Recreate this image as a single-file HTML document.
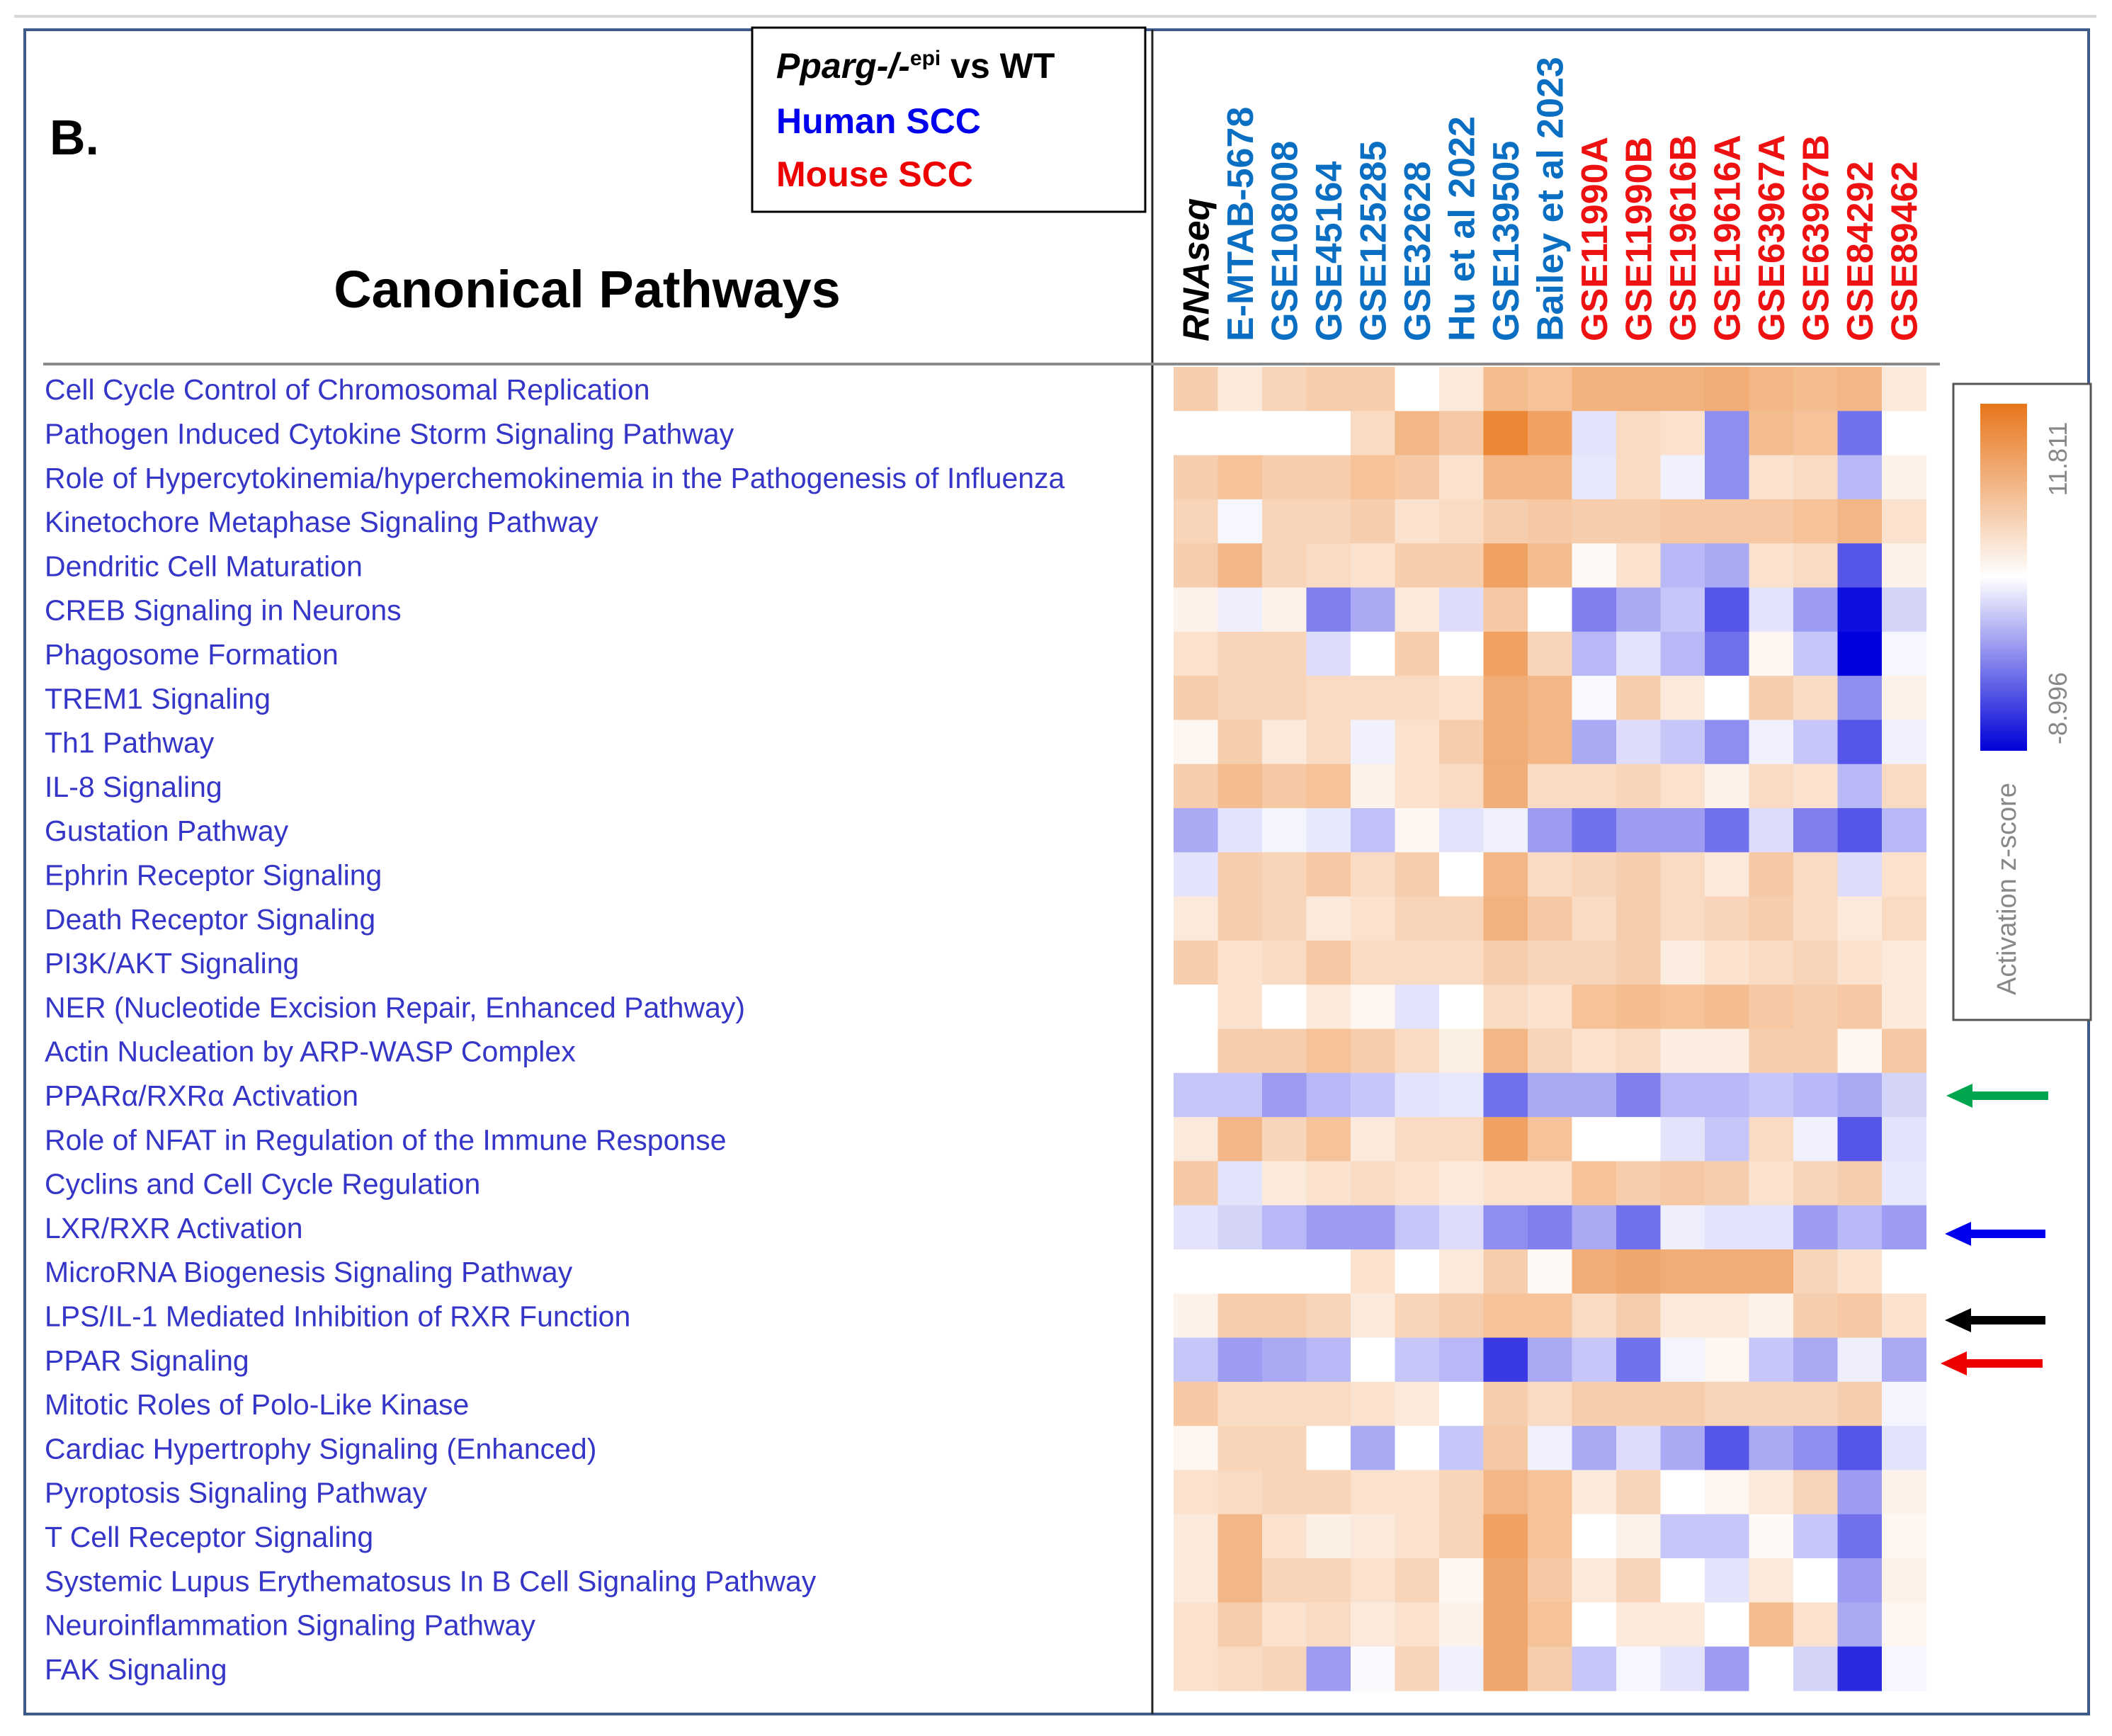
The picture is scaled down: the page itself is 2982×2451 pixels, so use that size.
<!DOCTYPE html>
<html><head><meta charset="utf-8"><style>
html,body{margin:0;padding:0;background:#fff;}
svg{display:block;}
</style></head><body>
<svg id="fig" width="2982" height="2451" viewBox="0 0 2982 2451" xmlns="http://www.w3.org/2000/svg">
<defs>
<linearGradient id="cbar" x1="0" y1="0" x2="0" y2="1">
<stop offset="0" stop-color="#e8761a"/><stop offset="0.5" stop-color="#fff"/><stop offset="1" stop-color="#0000d8"/>
</linearGradient>
</defs>
<rect x="0" y="0" width="2982" height="2451" fill="#fff"/>
<line x1="20" y1="23" x2="2960" y2="23" stroke="#d8d8d8" stroke-width="4"/>
<rect x="35" y="42" width="2914" height="2378" fill="none" stroke="#3d5a88" stroke-width="4"/>
<line x1="1627" y1="42" x2="1627" y2="2420" stroke="#222" stroke-width="3"/>
<text x="70" y="218" font-family="Liberation Sans, sans-serif" font-weight="bold" font-size="70" fill="#000">B.</text>
<g>
<rect x="1062" y="39" width="555" height="260" fill="#fff" stroke="#000" stroke-width="3"/>
<text x="1096" y="110" font-family="Liberation Sans, sans-serif" font-weight="bold" font-size="50" fill="#000"><tspan font-style="italic">Pparg-/-</tspan><tspan font-size="30" dy="-18">epi</tspan><tspan dy="18"> vs WT</tspan></text>
<text x="1096" y="188" font-family="Liberation Sans, sans-serif" font-weight="bold" font-size="50" fill="#0000ee">Human  SCC</text>
<text x="1096" y="263" font-family="Liberation Sans, sans-serif" font-weight="bold" font-size="50" fill="#ee0000">Mouse SCC</text>
</g>
<text x="829" y="434" text-anchor="middle" font-family="Liberation Sans, sans-serif" font-weight="bold" font-size="74" fill="#000">Canonical Pathways</text>
<line x1="61" y1="514" x2="2739" y2="514" stroke="#8a8a8a" stroke-width="4"/>
<g id="rowlabels"></g>
<g id="collabels"></g>
<g id="cells"></g>
<g>
<rect x="2758" y="542" width="194" height="898" fill="#fff" stroke="#555" stroke-width="3"/>
<rect x="2796" y="570" width="66" height="490" fill="url(#cbar)"/>
<text transform="translate(2918,648) rotate(-90)" text-anchor="middle" font-family="Liberation Sans, sans-serif" font-size="36" fill="#888">11.811</text>
<text transform="translate(2918,1000) rotate(-90)" text-anchor="middle" font-family="Liberation Sans, sans-serif" font-size="36" fill="#888">-8.996</text>
<text transform="translate(2846,1255) rotate(-90)" text-anchor="middle" font-family="Liberation Sans, sans-serif" font-size="38" fill="#888">Activation z-score</text>
</g>
<g>
<path d="M2748,1547 L2785,1530 L2785,1541 L2892,1541 L2892,1553 L2785,1553 L2785,1564 Z" fill="#00a550"/>
<path d="M2746,1742 L2783,1725 L2783,1736 L2888,1736 L2888,1748 L2783,1748 L2783,1759 Z" fill="#0000ee"/>
<path d="M2746,1864 L2783,1847 L2783,1858 L2888,1858 L2888,1870 L2783,1870 L2783,1881 Z" fill="#000"/>
<path d="M2740,1925 L2777,1908 L2777,1919 L2884,1919 L2884,1931 L2777,1931 L2777,1942 Z" fill="#ee0000"/>
</g>
</svg>
<script>
const pathways = ["Cell Cycle Control of Chromosomal Replication","Pathogen Induced Cytokine Storm Signaling Pathway","Role of Hypercytokinemia/hyperchemokinemia in the Pathogenesis of Influenza","Kinetochore Metaphase Signaling Pathway","Dendritic Cell Maturation","CREB Signaling in Neurons","Phagosome Formation","TREM1 Signaling","Th1 Pathway","IL-8 Signaling","Gustation Pathway","Ephrin Receptor Signaling","Death Receptor Signaling","PI3K/AKT Signaling","NER (Nucleotide Excision Repair, Enhanced Pathway)","Actin Nucleation by ARP-WASP Complex","PPARα/RXRα Activation","Role of NFAT in Regulation of the Immune Response","Cyclins and Cell Cycle Regulation","LXR/RXR Activation","MicroRNA Biogenesis Signaling Pathway","LPS/IL-1 Mediated Inhibition of RXR Function","PPAR Signaling","Mitotic Roles of Polo-Like Kinase","Cardiac Hypertrophy Signaling (Enhanced)","Pyroptosis Signaling Pathway","T Cell Receptor Signaling","Systemic Lupus Erythematosus In B Cell Signaling Pathway","Neuroinflammation Signaling Pathway","FAK Signaling"];
const datasets = ["RNAseq","E-MTAB-5678","GSE108008","GSE45164","GSE125285","GSE32628","Hu et al 2022","GSE139505","Bailey et al 2023","GSE11990A","GSE11990B","GSE19616B","GSE19616A","GSE63967A","GSE63967B","GSE84292","GSE89462"];
const datasetGroup = ["own","human","human","human","human","human","human","human","human","mouse","mouse","mouse","mouse","mouse","mouse","mouse","mouse"];
const zMax = 11.811;
const zMin = -8.996;
const zscores = [
[3,1,2.5,3,3,0,1,4.5,4,5.5,5.5,5.5,6,5,4.5,5,1],
[0,0,0,0,2,5,3.5,10,7,-1,2,1.5,-4,4.5,4,-5,0],
[3,4,3,3,4,3.5,1.5,5,5,-0.8,2,-0.5,-4,1.5,2,-2.5,0.5],
[2.5,-0.3,2.5,2.5,3,1.5,2,3,3.5,3,3,3.5,3.5,3.5,4,5,1.5],
[3,5,2.5,2,1.5,3,3,7,4.5,0.2,1.5,-2.5,-3,1.5,2,-6,0.5],
[0.5,-0.6,0.5,-4.5,-3,1,-1.2,3.5,0,-4.5,-3,-2,-6,-1,-3.5,-8.5,-1.5],
[1.5,2.5,2.5,-1.2,0,3,0,7,2.5,-2.5,-1,-2.5,-5,0.3,-2,-9,-0.3],
[3,2.5,2.5,2,2,2,1.5,6,5,-0.2,3,1,0,3,2,-4,0.5],
[0.3,3,1,2,-0.5,1.5,3,6,5,-3,-1.2,-2,-4,-0.5,-2,-6,-0.5],
[3,4.5,3.5,4,0.5,1.5,2,6,2,2,2.5,1.5,0.5,2,1.5,-2.5,2],
[-3,-1,-0.4,-0.8,-2.2,0.3,-1,-0.5,-3.5,-5,-3.5,-3.5,-5,-1.2,-4.5,-6,-2.5],
[-1,3,2.5,3.5,2,3,0,5,2,2.5,3,2,1,3.5,2,-1.2,1.5],
[1,3,2.5,1,1.5,2.5,2.5,5.5,3.5,2,3,2,2.5,3,2,1,2],
[3,1.5,2,3.5,2,2,2,3,2.5,2.5,3,0.8,1.5,2,2.5,1.5,1],
[0,1.5,0,1,0.3,-1,0,2,1.5,4,4.5,4,4.5,3.5,3,3.5,1],
[0,3,3,4,3,2,0.7,5,2.5,1.5,2,0.8,0.8,3,3,0.3,3.5],
[-2,-2,-3.5,-2.5,-2,-1,-0.8,-5,-3,-3,-4.5,-2.5,-2.5,-2,-2.5,-3,-1.5],
[1,5,2.5,4,1,2,2,7,4,0,0,-1,-2,2,-0.5,-6,-1],
[3.5,-1,1,1.5,2,1.5,1,1.5,1.5,4,3,3.5,3,1.5,2.5,3,-0.8],
[-1,-1.5,-2.5,-3.5,-3.5,-2,-1.2,-4,-4.5,-3,-5,-0.6,-1,-1,-3.5,-2.5,-3.5],
[0,0,0,0,1.5,0,1,3,0.2,6,6.5,6,6,6,2.5,1.5,0],
[0.5,3,3,2.5,1,2.5,3,4,4,2,3,1,1,0.5,3,3.5,1.5],
[-2,-3.5,-3,-2.5,0,-2,-2.5,-7,-3,-2,-5,-0.4,0.3,-2,-3,-0.6,-3],
[3.5,2,2,2,1.5,1,0,3,2,3,3,3,2.5,2.5,2.5,3,-0.4],
[0.3,2.5,2.5,0,-3,0,-2,3.5,-0.5,-3,-1.2,-3,-6,-3,-4,-6,-1],
[1.5,2,2.5,2.5,1.5,1.5,2.5,5,4,1,2.5,0,0.3,1,2.5,-3.5,0.5],
[1,5,1.5,0.7,1,1.5,2.5,7,4,0,0.5,-2,-2,0.2,-2,-5,0.3],
[1,5,2.5,2.5,1.5,2.5,0.3,6.5,3.5,1,2.5,0,-1,1,0,-3.5,0.5],
[1.5,3,1.5,2,1,1.5,0.5,6.5,4,0,1,1,0,4.5,1.5,-3,0.3],
[1.5,2,2.5,-3.5,-0.2,2.5,-0.5,6.5,3,-2,-0.3,-1,-3.5,0,-1.5,-7.5,-0.3]
];

const NS = "http://www.w3.org/2000/svg";
const X0 = 1657, CW = 62.5, Y0 = 518, RH = 62.3;
function xPos(i){ return X0 + i*CW; }
function yPos(j){ return Y0 + j*RH; }
function colorFor(v){
  let r,g,b;
  if(v>=0){ const t=Math.pow(Math.min(v/zMax,1),0.75); r=255+(232-255)*t; g=255+(118-255)*t; b=255+(26-255)*t; }
  else { const t=Math.min(v/zMin,1); r=255*(1-t); g=255*(1-t); b=255+(222-255)*t; }
  return "rgb("+Math.round(r)+","+Math.round(g)+","+Math.round(b)+")";
}
const cells = document.getElementById("cells");
zscores.forEach(function(row,j){
  row.forEach(function(v,i){
    const r = document.createElementNS(NS,"rect");
    r.setAttribute("x", xPos(i)); r.setAttribute("y", yPos(j));
    r.setAttribute("width", CW+0.6); r.setAttribute("height", RH+0.6);
    r.setAttribute("fill", colorFor(v));
    
    
    cells.appendChild(r);
  });
});
const rl = document.getElementById("rowlabels");
pathways.forEach(function(p,j){
  const t = document.createElementNS(NS,"text");
  t.setAttribute("x", 63); t.setAttribute("y", yPos(j)+RH/2+15);
  t.setAttribute("font-family","Liberation Sans, sans-serif");
  t.setAttribute("font-size","41"); t.setAttribute("fill","#3535c8");
  t.textContent = p;
  
  
  rl.appendChild(t);
});
const cl = document.getElementById("collabels");
datasets.forEach(function(d,i){
  const t = document.createElementNS(NS,"text");
  const cx = xPos(i)+CW/2+18;
  t.setAttribute("transform","translate("+cx+",482) rotate(-90)");
  t.setAttribute("font-family","Liberation Sans, sans-serif");
  t.setAttribute("font-weight","bold"); t.setAttribute("font-size","52");
  const g = datasetGroup[i];
  t.setAttribute("fill", g==="own" ? "#000" : (g==="human" ? "#0a6fc2" : "#ee1111"));
  if(g==="own") t.setAttribute("font-style","italic");
  t.textContent = d;
  
  
  cl.appendChild(t);
});
</script>
</body></html>
